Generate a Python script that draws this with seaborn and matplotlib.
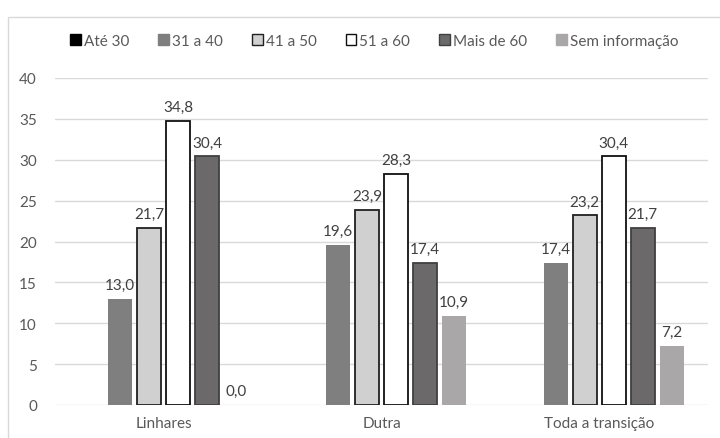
import numpy as np
import pandas as pd
import seaborn as sns
import matplotlib.pyplot as plt
from matplotlib.patches import Patch, Rectangle

# Share of each age group (%) per locality
categories = ["Linhares", "Dutra", "Toda a transição"]
age_groups = ["Até 30", "31 a 40", "41 a 50", "51 a 60", "Mais de 60", "Sem informação"]
ate_30 = [np.nan, np.nan, np.nan]
de_31_a_40 = [13.0, 19.6, 17.4]
de_41_a_50 = [21.7, 23.9, 23.2]
de_51_a_60 = [34.8, 28.3, 30.4]
mais_de_60 = [30.4, 17.4, 21.7]
sem_informacao = [0.0, 10.9, 7.2]
y_ticks = [0, 5, 10, 15, 20, 25, 30, 35, 40]

series = [ate_30, de_31_a_40, de_41_a_50, de_51_a_60, mais_de_60, sem_informacao]
rows = []
for group, values in zip(age_groups, series):
    for cat, v in zip(categories, values):
        rows.append({"local": cat, "faixa": group, "pct": v})
df = pd.DataFrame(rows)

fill = {
    "Até 30": "#000000",
    "31 a 40": "#7f7f7f",
    "41 a 50": "#d0d0d0",
    "51 a 60": "#ffffff",
    "Mais de 60": "#6b6969",
    "Sem informação": "#a9a7a7",
}
edge = {
    "Até 30": "#000000",
    "31 a 40": "#7f7f7f",
    "41 a 50": "#202020",
    "51 a 60": "#101010",
    "Mais de 60": "#404040",
    "Sem informação": "#a9a7a7",
}

sns.set_theme(style="white")
plt.rcParams["font.family"] = ["Lato", "DejaVu Sans"]
text_color = "#595959"

fig = plt.figure(figsize=(7.2, 4.39), dpi=100)
fig.patch.set_facecolor("white")
fig.add_artist(Rectangle((8 / 720, -0.05), 1.2, 1 - 18 / 439 + 0.05,
                         transform=fig.transFigure, fill=False,
                         edgecolor="#d9d9d9", lw=1.0))

ax = fig.add_axes([55 / 720, 1 - 406 / 439, (708 - 55) / 720, (406 - 79) / 439])
sns.barplot(data=df, x="local", y="pct", hue="faixa", order=categories,
            hue_order=age_groups, palette=fill, saturation=1, width=0.8,
            gap=0.17, errorbar=None, legend=False, ax=ax)

# outline style per age group, matched through the face colour
fill_rgb = {k: tuple(np.round(plt.matplotlib.colors.to_rgb(c), 3)) for k, c in fill.items()}
for p in ax.patches:
    rgb = tuple(np.round(p.get_facecolor()[:3], 3))
    for k, c in fill_rgb.items():
        if c == rgb:
            p.set_edgecolor(edge[k])
            p.set_linewidth(1.3 if edge[k] != fill[k] else 0)

for c in ax.containers:
    labels = ["" if np.isnan(v) else f"{v:.1f}".replace(".", ",") for v in c.datavalues]
    ax.bar_label(c, labels=labels, padding=5, color="#404040", fontsize=11)

ax.set_ylim(0, 40)
ax.set_yticks(y_ticks)
ax.set_xlim(-0.5, 2.5)
ax.yaxis.grid(True, color="#d9d9d9", lw=1)
ax.set_axisbelow(True)
for s in ax.spines.values():
    s.set_visible(False)
ax.tick_params(axis="both", length=0, labelsize=11, colors=text_color)
ax.tick_params(axis="y", pad=13)
ax.tick_params(axis="x", pad=8)
ax.set_xlabel("")
ax.set_ylabel("")

handles = [Patch(facecolor=fill[g], edgecolor=edge[g], lw=1.0, label=g) for g in age_groups]
fig.legend(handles=handles, loc="center", bbox_to_anchor=(0.52, 1 - 42 / 439),
           ncol=6, frameon=False, fontsize=11, labelcolor=text_color,
           handlelength=0.7, handleheight=0.7, handletextpad=0.2,
           columnspacing=1.9)

fig.savefig("out.png", dpi=100)
